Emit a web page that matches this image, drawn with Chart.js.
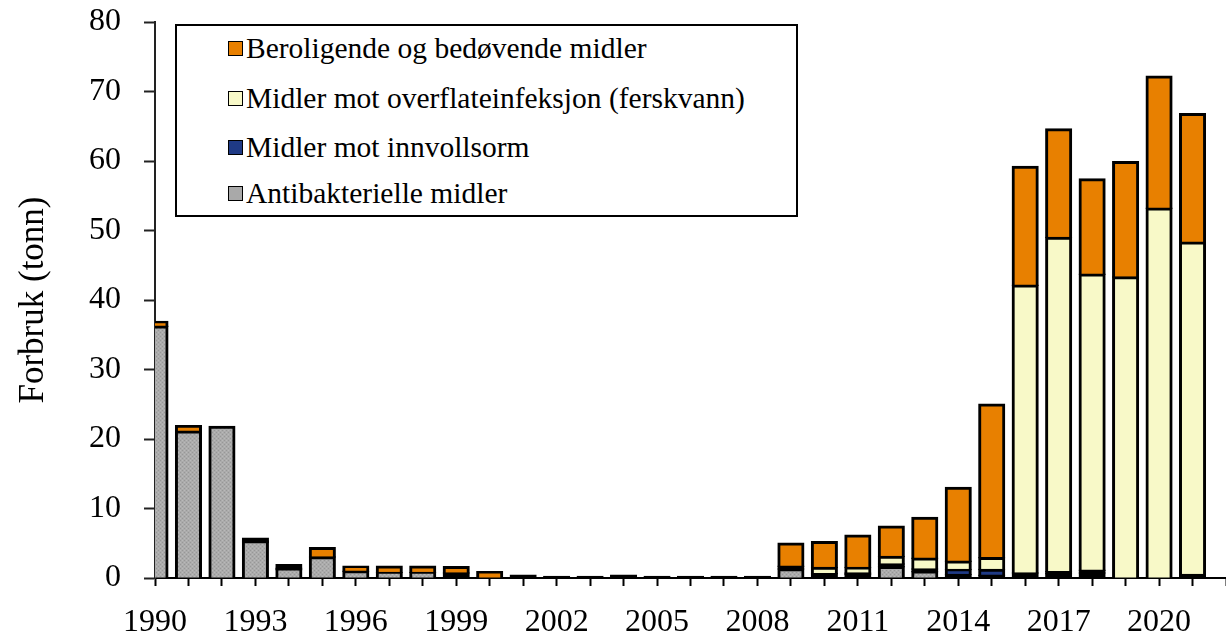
<!DOCTYPE html>
<html lang="no">
<head>
<meta charset="utf-8">
<title>Forbruk (tonn)</title>
<script src="https://cdn.jsdelivr.net/npm/chart.js@4/dist/chart.umd.min.js"></script>
<style>
  html, body { margin: 0; padding: 0; background: #fff; }
  #wrap { position: relative; width: 1226px; height: 635px; }
  #chart { display: block; }
  #legend {
    position: absolute; left: 175px; top: 24px; width: 619px; height: 189px;
    border: 2px solid #000; background: #fff;
    font-family: "Liberation Serif", "Times New Roman", serif; font-size: 29.5px; color: #000;
  }
  .item { position: absolute; left: 51px; height: 36px; display: flex; align-items: center; white-space: nowrap; }
  .swatch { width: 13px; height: 13px; border: 1.5px solid #000; margin-right: 3px; }
</style>
</head>
<body>
<div id="wrap">
  <canvas id="chart" width="1226" height="635"></canvas>
  <div id="legend"></div>
</div>
<script>
// ==========================================
// Data: forbruk per år (tonn)
// ==========================================

const years = [1990, 1991, 1992, 1993, 1994, 1995, 1996, 1997, 1998, 1999,
               2000, 2001, 2002, 2003, 2004, 2005, 2006, 2007, 2008, 2009,
               2010, 2011, 2012, 2013, 2014, 2015, 2016, 2017, 2018, 2019,
               2020, 2021];
// aksen går ett år forbi siste søyle
const axisYears = [...years, 2022];
const labelYears = [1990, 1993, 1996, 1999, 2002, 2005, 2008, 2011, 2014, 2017, 2020];
const yTicks = { min: 0, max: 80, step: 10 };

const antibakterielle = [36.1, 21.0, 21.7, 5.2, 1.3, 2.9, 0.85, 0.7, 0.7, 0, 0, 0.3, 0.1, 0.1, 0.3, 0.1, 0.1, 0.1, 0.1, 1.2,
                         0.5, 0, 1.5, 0.8, 0.4, 0.3, 0, 0.5, 0.6, 0, 0, 0];
const innvollsorm = [0, 0, 0, 0.4, 0.5, 0, 0, 0, 0, 0.6, 0, 0, 0, 0, 0, 0, 0, 0, 0, 0.4,
                     0, 0.6, 0.4, 0.4, 0.7, 0.8, 0.6, 0.3, 0.4, 0, 0, 0.4];
const overflateinfeksjon = [0, 0, 0, 0, 0, 0, 0, 0, 0, 0, 0, 0, 0, 0, 0, 0, 0, 0, 0, 0,
                            0.9, 0.8, 1.1, 1.55, 1.2, 1.7, 41.4, 48.1, 42.6, 43.2, 53.1, 47.8];
const beroligende = [0.7, 0.8, 0, 0, 0, 1.35, 0.75, 0.9, 0.9, 0.9, 0.8, 0, 0, 0, 0, 0, 0, 0, 0, 3.3,
                     3.7, 4.65, 4.35, 5.85, 10.6, 22.1, 17.1, 15.6, 13.7, 16.6, 19.0, 18.5];

const FONT = '"Liberation Serif", "Times New Roman", serif';
const OUTLINE = 3;

// ==========================================
// Hjelpefunksjoner
// ==========================================

/**
 * Prikket grå fyll (som Excel-mønsteret for antibakterielle midler)
 */
function dottedGray() {
  const c = document.createElement('canvas');
  c.width = 4;
  c.height = 4;
  const g = c.getContext('2d');
  g.fillStyle = '#ABABAB';
  g.fillRect(0, 0, 4, 4);
  g.fillStyle = '#979797';
  g.fillRect(0, 0, 1, 1);
  g.fillRect(2, 2, 1, 1);
  g.fillStyle = '#B9B9B9';
  g.fillRect(2, 0, 1, 1);
  g.fillRect(0, 2, 1, 1);
  return g.createPattern(c, 'repeat');
}

/**
 * Fyllfarge for et segment. Segmenter som er lavere enn omrisset
 * blir helt dekket av streken og tegnes derfor svarte.
 */
function segmentFill(fill) {
  return function (ctx) {
    const y = ctx.chart.scales.y;
    if (!y || ctx.raw == null) return fill;
    const h = Math.abs(y.getPixelForValue(0) - y.getPixelForValue(ctx.raw));
    return h < OUTLINE * 1.4 ? '#000' : fill;
  };
}

/**
 * Lager ett stablet søyledatasett. Tomme verdier blir null så de ikke tegnes.
 */
function makeSet(label, values, color, fill) {
  return {
    label: label,
    swatch: color,
    data: values.map(v => (v > 0 ? v : null)),
    backgroundColor: segmentFill(fill || color),
    borderColor: '#000',
    borderWidth: OUTLINE,
    borderSkipped: 'start',
    inflateAmount: OUTLINE / 2,
    categoryPercentage: 1,
    barPercentage: 0.72,
    clip: 0
  };
}

// aksene skal ikke skyve plotteområdet
function noPadding(s) {
  s.paddingTop = 0;
  s.paddingBottom = 0;
  s.paddingLeft = 0;
  s.paddingRight = 0;
}

/**
 * Bygger forklaringen i rammen øverst til venstre (øverste lag først)
 */
function renderLegend(chart) {
  const box = document.getElementById('legend');
  const rowTops = [4, 54, 103, 149];
  chart.data.datasets.slice().reverse().forEach((ds, i) => {
    const item = document.createElement('div');
    item.className = 'item';
    item.style.top = rowTops[i] + 'px';
    const sw = document.createElement('span');
    sw.className = 'swatch';
    sw.style.background = ds.swatch;
    const txt = document.createElement('span');
    txt.textContent = ds.label;
    item.appendChild(sw);
    item.appendChild(txt);
    box.appendChild(item);
  });
}

// ==========================================
// Diagram
// ==========================================

const chart = new Chart(document.getElementById('chart'), {
  type: 'bar',
  data: {
    labels: axisYears,
    datasets: [
      makeSet('Antibakterielle midler', antibakterielle, '#A9A9A9', dottedGray()),
      makeSet('Midler mot innvollsorm', innvollsorm, '#1F3A85'),
      makeSet('Midler mot overflateinfeksjon (ferskvann)', overflateinfeksjon, '#F8F9C8'),
      makeSet('Beroligende og bedøvende midler', beroligende, '#E88000')
    ]
  },
  options: {
    responsive: false,
    animation: false,
    layout: { padding: { top: 22, right: 0, left: 0, bottom: 0 } },
    plugins: {
      legend: { display: false },
      tooltip: { enabled: false }
    },
    scales: {
      x: {
        stacked: true,
        offset: false,
        z: 1,
        grid: { drawOnChartArea: false, offset: false, tickLength: 8, tickWidth: 2, tickColor: '#000' },
        border: { color: '#000', width: 2 },
        ticks: {
          autoSkip: false,
          maxRotation: 0,
          padding: 17,
          color: '#000',
          font: { family: FONT, size: 32 },
          callback: (v, i) => (labelYears.includes(axisYears[i]) ? String(axisYears[i]) : '')
        },
        afterFit: s => { s.height = 57; noPadding(s); }
      },
      y: {
        stacked: true,
        min: yTicks.min,
        max: yTicks.max,
        z: 1,
        grid: { drawOnChartArea: false, tickLength: 11, tickWidth: 2, tickColor: '#222' },
        border: { color: '#222', width: 2 },
        ticks: {
          stepSize: yTicks.step,
          padding: 23,
          color: '#000',
          font: { family: FONT, size: 32 }
        },
        title: {
          display: true,
          text: 'Forbruk (tonn)',
          color: '#000',
          padding: { top: 13, bottom: 0 },
          font: { family: FONT, size: 35 }
        },
        afterFit: s => { s.width = 155; noPadding(s); }
      }
    }
  }
});

renderLegend(chart);
</script>
</body>
</html>
